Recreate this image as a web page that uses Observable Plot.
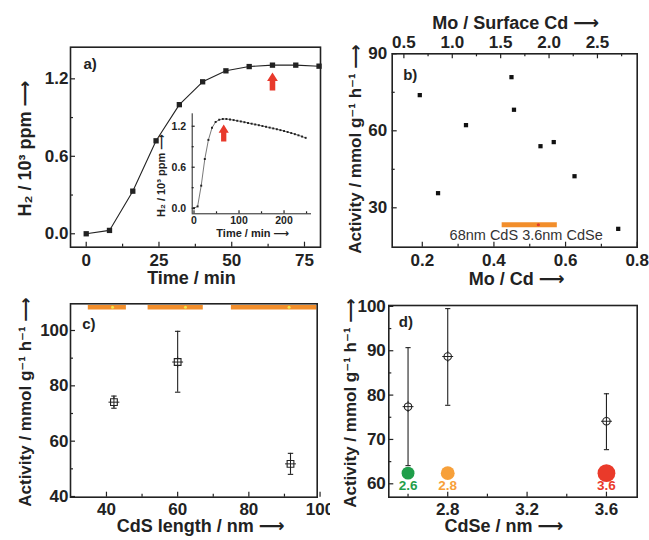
<!DOCTYPE html>
<html><head><meta charset="utf-8">
<script src="https://cdn.jsdelivr.net/npm/d3@7"></script>
<script src="https://cdn.jsdelivr.net/npm/@observablehq/plot@0.6"></script>
<style>
body{margin:0;background:#fff;}
#wrap{position:relative;width:649px;height:540px;overflow:hidden;background:#fff;}
#wrap > svg{position:absolute;background:transparent !important;}
</style></head><body><div id="wrap"></div>
<script>
// ---------- data ----------
// a) main
const timeA = [0, 8, 16, 24, 32, 40, 48, 56, 64, 72, 80];
const h2A = [0.00, 0.026, 0.33, 0.72, 1.00, 1.177, 1.262, 1.295, 1.306, 1.306, 1.298];
const arrowA = [{t: 64, v: 1.18}];
// a) inset
const timeInset = [0, 8, 16, 24, 32, 40, 48, 56, 64, 72, 80, 88, 96, 104, 112, 120, 128, 136, 144, 152, 160,
  168, 176, 184, 192, 200, 208, 216, 224, 232, 240, 248];
const h2Inset = [0.00, 0.026, 0.33, 0.72, 1.00, 1.177, 1.262, 1.295, 1.306, 1.306, 1.298, 1.290, 1.280, 1.270,
  1.259, 1.248, 1.237, 1.226, 1.215, 1.203, 1.192, 1.180, 1.168, 1.156, 1.143, 1.130, 1.115, 1.100, 1.084,
  1.067, 1.049, 1.030];
const arrowInset = [{t: 66, v: 1.10}];
// b)
const moCd = [0.193, 0.244, 0.322, 0.449, 0.456, 0.530, 0.567, 0.625, 0.747];
const activityB = [73.9, 35.7, 62.2, 80.9, 68.2, 54.0, 55.6, 42.3, 21.8];
const sampleBarB = [{x1: 0.423, x2: 0.577, y: 23.4, mid: 0.524}];
const sampleLabelB = [{x: 0.49, y: 19.2, text: "68nm CdS 3.6nm CdSe"}];
const topMoSurfaceCd = [0.5, 1.0, 1.5, 2.0, 2.5];
const topMoSurfaceCdMinor = [0.75, 1.25, 1.75, 2.25, 2.75];
// mapping Mo/Surface Cd (top) -> Mo/Cd (bottom)
const topOffset = 0.1486, topSlope = 0.2702;
// c)
const cdsLength = [42.1, 60.0, 91.7];
const activityC = [74.1, 88.6, 51.8];
const lowC = [71.9, 77.7, 48.0];
const highC = [76.3, 99.7, 55.6];
const lengthRanges = [{x1: 34.9, x2: 45.6, mid: 41.7}, {x1: 51.7, x2: 67.2, mid: 62.2}, {x1: 75.1, x2: 99.1, mid: 91.3}];
const rangeLevelC = 108.4;
// d)
const cdseSize = [2.6, 2.8, 3.6];
const activityD = [77.4, 88.7, 74.1];
const lowD = [64.1, 77.7, 67.7];
const highD = [90.7, 99.5, 80.3];
const dotLevelD = 62.4, dotLabelLevelD = 59.5;
const sizeLabels = ["2.6", "2.8", "3.6"];
const sizeColors = ["#1f9e4a", "#f7a03a", "#ea3a2a"];

// ---------- style ----------
const FONT = '"Liberation Sans", Arial, "DejaVu Sans", sans-serif';
const INK = "#222";
const RED = "#e8392b";
const ORANGE = "#f28e2b";
const TICKFS = 17;
const baseStyle = {fontFamily: FONT, fontSize: "16px", fontWeight: "bold", color: INK, background: "transparent", overflow: "hidden"};
const f1 = d3.format(".1f");

const upArrow = {draw(ctx, size) {
  const r = Math.sqrt(size / Math.PI);
  ctx.moveTo(0, -r); ctx.lineTo(0.6 * r, -0.05 * r); ctx.lineTo(0.31 * r, -0.05 * r); ctx.lineTo(0.31 * r, r);
  ctx.lineTo(-0.31 * r, r); ctx.lineTo(-0.31 * r, -0.05 * r); ctx.lineTo(-0.6 * r, -0.05 * r); ctx.closePath();
}};
const capSym = {draw(ctx, size) { const r = Math.sqrt(size / Math.PI); ctx.moveTo(-r, 0); ctx.lineTo(r, 0); }};

function ticksBottom(vals, len, H) { return Plot.tickX(vals, {x: d => d, insetTop: H - len, stroke: INK, strokeWidth: 1.2}); }
function ticksTop(vals, len, H) { return Plot.tickX(vals, {x: d => d, insetBottom: H - len, stroke: INK, strokeWidth: 1.2}); }
function ticksLeft(vals, len, W) { return Plot.tickY(vals, {y: d => d, insetRight: W - len, stroke: INK, strokeWidth: 1.2}); }

const wrap = document.getElementById("wrap");
function place(svg, left, top) { svg.style.left = left + "px"; svg.style.top = top + "px"; wrap.appendChild(svg); }

const yTitleAct = "Activity / mmol g\u207B\u00B9 h\u207B\u00B9 \u27F6";
const yTitle = (txt, dx, dy, size) => Plot.text([txt], {text: d => d, frameAnchor: "left", dx, dy, rotate: -90,
  textAnchor: "middle", lineAnchor: "middle", fontSize: size, fill: INK});
const xTitle = (txt, dx, dy, size) => Plot.text([txt], {text: d => d, frameAnchor: "bottom", dx, dy,
  textAnchor: "middle", lineAnchor: "middle", fontSize: size, fill: INK});
const panelTag = (txt, dx, dy) => Plot.text([txt], {text: d => d, frameAnchor: "top-left", dx, dy,
  textAnchor: "start", lineAnchor: "middle", fontSize: 15, fill: INK});

// ---------- a) main ----------
{
  const W = 325, H = 295, mL = 70, mR = 5, mT = 46.7, mB = 48.3;
  const fw = W - mL - mR, fh = H - mT - mB;
  const data = timeA.map((t, i) => ({t, v: h2A[i]}));
  const p = Plot.plot({
    width: W, height: H, marginLeft: mL, marginRight: mR, marginTop: mT, marginBottom: mB,
    x: {domain: [-5.4, 80.5], axis: null}, y: {domain: [-0.104, 1.445], axis: null},
    style: baseStyle,
    marks: [
      Plot.line(data, {x: "t", y: "v", stroke: INK, strokeWidth: 1.1}),
      Plot.dot(data, {x: "t", y: "v", symbol: "square", r: 3, fill: INK}),
      Plot.dot(arrowA, {x: "t", y: "v", symbol: upArrow, r: 9, fill: RED}),
      ticksBottom([0, 25, 50, 75], 5, fh), ticksBottom([12.5, 37.5, 62.5], 3, fh),
      ticksLeft([0, 0.6, 1.2], 5, fw), ticksLeft([0.3, 0.9], 3, fw),
      Plot.axisX({ticks: [0, 25, 50, 75], label: null, tickSize: 0, tickPadding: 6.5, fontSize: TICKFS, fill: INK}),
      Plot.axisY({ticks: [0, 0.6, 1.2], label: null, tickSize: 0, tickPadding: 2, tickFormat: f1, fontSize: TICKFS, fill: INK}),
      Plot.frame({stroke: INK, strokeWidth: 1.6}),
      xTitle("Time / min", -4, 31.5, 18),
      yTitle("H\u2082 / 10\u00B3 ppm \u27F6", -45, 1.5, 18),
      panelTag("a)", 13, 16.6)
    ]
  });
  place(p, 0, 0);
}

// ---------- a) inset ----------
{
  const W = 170, H = 145, mL = 41.7, mR = 9, mT = 13.3, mB = 31.7;
  const fw = W - mL - mR, fh = H - mT - mB;
  const data = timeInset.map((t, i) => ({t, v: h2Inset[i]}));
  const xd = [-4, 261], yd = [-0.082, 1.382];
  const p = Plot.plot({
    width: W, height: H, marginLeft: mL, marginRight: mR, marginTop: mT, marginBottom: mB,
    x: {domain: xd, axis: null}, y: {domain: yd, axis: null},
    style: {...baseStyle, fontSize: "10.5px"},
    marks: [
      Plot.ruleX([xd[0]], {stroke: INK, strokeWidth: 1}),
      Plot.ruleY([yd[0]], {stroke: INK, strokeWidth: 1}),
      Plot.line(data, {x: "t", y: "v", stroke: "#555", strokeWidth: 0.8}),
      Plot.dot(data, {x: "t", y: "v", symbol: "square", r: 1.1, fill: INK}),
      Plot.dot(arrowInset, {x: "t", y: "v", symbol: upArrow, r: 8.5, fill: RED}),
      ticksBottom([0, 100, 200], 3, fh), ticksBottom([50, 150, 250], 2, fh),
      ticksLeft([0, 0.6, 1.2], 3, fw), ticksLeft([0.3, 0.9], 2, fw),
      Plot.axisX({ticks: [0, 100, 200], label: null, tickSize: 0, tickPadding: 3, fontSize: 10.5, fill: INK}),
      Plot.axisY({ticks: [0, 0.6, 1.2], label: null, tickSize: 0, tickPadding: 6, tickFormat: f1, fontSize: 10.5, fill: INK}),
      xTitle("Time / min \u27F6", 1, 19.7, 11),
      yTitle("H\u2082 / 10\u00B3 ppm \u27F6", -31, 11.7, 11)
    ]
  });
  place(p, 150, 100);
}

// ---------- b) ----------
{
  const W = 319, H = 295, mL = 61.7, mR = 12.3, mT = 53.3, mB = 48.3;
  const fw = W - mL - mR, fh = H - mT - mB;
  const data = moCd.map((x, i) => ({x, y: activityB[i]}));
  const toBottom = t => topOffset + (t - 0.5) * topSlope;
  const toTop = b => 0.5 + (b - topOffset) / topSlope;
  const p = Plot.plot({
    width: W, height: H, marginLeft: mL, marginRight: mR, marginTop: mT, marginBottom: mB,
    x: {domain: [0.116, 0.8], axis: null}, y: {domain: [14.65, 90], axis: null},
    style: baseStyle,
    marks: [
      Plot.ruleY(sampleBarB, {x1: "x1", x2: "x2", y: "y", stroke: ORANGE, strokeWidth: 5}),
      Plot.dot(sampleBarB, {x: "mid", y: "y", r: 1.6, fill: "#e03a2a"}),
      Plot.text(sampleLabelB, {x: "x", y: "y", text: "text", fontSize: 14.5, fontWeight: "normal", fill: "#333"}),
      Plot.dot(data, {x: "x", y: "y", symbol: "square", r: 2.4, fill: "#111"}),
      ticksBottom([0.2, 0.4, 0.6, 0.8], 5, fh), ticksBottom([0.3, 0.5, 0.7], 3, fh),
      ticksTop(topMoSurfaceCd.map(toBottom), 5, fh), ticksTop(topMoSurfaceCdMinor.map(toBottom), 3, fh),
      ticksLeft([30, 60, 90], 5, fw), ticksLeft([45, 75], 3, fw),
      Plot.axisX({ticks: [0.2, 0.4, 0.6, 0.8], label: null, tickSize: 0, tickPadding: 6.5, tickFormat: f1, fontSize: TICKFS, fill: INK}),
      Plot.axisX({anchor: "top", ticks: topMoSurfaceCd.map(toBottom), label: null, tickSize: 0, tickPadding: 6, tickFormat: d => f1(toTop(d)), fontSize: TICKFS, fill: INK}),
      Plot.axisY({ticks: [30, 60, 90], label: null, tickSize: 0, tickPadding: 5, fontSize: TICKFS, fill: INK}),
      Plot.frame({stroke: INK, strokeWidth: 1.6}),
      xTitle("Mo / Cd \u27F6", 2, 32.5, 18),
      Plot.text(["Mo / Surface Cd \u27F6"], {text: d => d, frameAnchor: "top", dy: -30.6, dx: 1, textAnchor: "middle", lineAnchor: "middle", fontSize: 18, fill: INK}),
      yTitle(yTitleAct, -36.7, -1.5, 17),
      panelTag("b)", 11, 21.7)
    ]
  });
  place(p, 330, 0);
}

// ---------- c) ----------
{
  const W = 330, H = 250, mL = 70, mR = 13.3, mT = 13.3, mB = 43.3;
  const fw = W - mL - mR, fh = H - mT - mB;
  const data = cdsLength.map((x, i) => ({x, y: activityC[i], lo: lowC[i], hi: highC[i]}));
  const p = Plot.plot({
    width: W, height: H, marginLeft: mL, marginRight: mR, marginTop: mT, marginBottom: mB,
    x: {domain: [29.9, 99.2], axis: null}, y: {domain: [39.75, 109.65], axis: null},
    style: baseStyle,
    marks: [
      Plot.ruleY(lengthRanges, {x1: "x1", x2: "x2", y: () => rangeLevelC, stroke: ORANGE, strokeWidth: 4.7}),
      Plot.dot(lengthRanges, {x: "mid", y: () => rangeLevelC, r: 1.5, fill: "#f2e64a"}),
      Plot.ruleX(data, {x: "x", y1: "lo", y2: "hi", stroke: INK, strokeWidth: 1.1}),
      Plot.dot(data, {x: "x", y: "lo", symbol: capSym, r: 2.7, stroke: INK, strokeWidth: 1.1, fill: "none"}),
      Plot.dot(data, {x: "x", y: "hi", symbol: capSym, r: 2.7, stroke: INK, strokeWidth: 1.1, fill: "none"}),
      Plot.dot(data, {x: "x", y: "y", symbol: "square", r: 3.8, stroke: INK, strokeWidth: 1.1, fill: "white"}),
      Plot.dot(data, {x: "x", y: "y", symbol: "plus", r: 3.6, stroke: INK, strokeWidth: 1, fill: "none"}),
      ticksBottom([40, 60, 80, 100], 5, fh), ticksBottom([50, 70, 90], 3, fh),
      ticksLeft([40, 60, 80, 100], 5, fw), ticksLeft([50, 70, 90], 3, fw),
      Plot.axisX({ticks: [40, 60, 80, 100], label: null, tickSize: 0, tickPadding: 6, fontSize: TICKFS, fill: INK}),
      Plot.axisY({ticks: [40, 60, 80, 100], label: null, tickSize: 0, tickPadding: 2, fontSize: TICKFS, fill: INK}),
      Plot.frame({stroke: INK, strokeWidth: 1.6}),
      xTitle("CdS length / nm \u27F6", 6.7, 29.5, 18),
      yTitle(yTitleAct, -45, 1.5, 17),
      panelTag("c)", 11.7, 20.5)
    ]
  });
  place(p, 0, 290);
}

// ---------- d) ----------
{
  const W = 319, H = 250, mL = 58.3, mR = 12.3, mT = 15, mB = 43.3;
  const fw = W - mL - mR, fh = H - mT - mB;
  const data = cdseSize.map((x, i) => ({x, y: activityD[i], lo: lowD[i], hi: highD[i], label: sizeLabels[i], color: sizeColors[i]}));
  const p = Plot.plot({
    width: W, height: H, marginLeft: mL, marginRight: mR, marginTop: mT, marginBottom: mB,
    x: {domain: [2.503, 3.755], axis: null}, y: {domain: [56.98, 100.2], axis: null},
    r: {type: "linear", domain: [0, 3.6], range: [0, 8.9]},
    color: {type: "identity"},
    style: baseStyle,
    marks: [
      Plot.ruleX(data, {x: "x", y1: "lo", y2: "hi", stroke: INK, strokeWidth: 1.1}),
      Plot.dot(data, {x: "x", y: "lo", symbol: capSym, r: 2.6, stroke: INK, strokeWidth: 1.1, fill: "none"}),
      Plot.dot(data, {x: "x", y: "hi", symbol: capSym, r: 2.6, stroke: INK, strokeWidth: 1.1, fill: "none"}),
      Plot.dot(data, {x: "x", y: "y", symbol: "circle", r: 3.7, stroke: INK, strokeWidth: 1.1, fill: "white"}),
      Plot.dot(data, {x: "x", y: "y", symbol: "plus", r: 3.6, stroke: INK, strokeWidth: 1, fill: "none"}),
      Plot.dot(data, {x: "x", y: () => dotLevelD, r: "x", fill: "color"}),
      Plot.text(data, {x: "x", y: () => dotLabelLevelD, text: "label", fill: "color", fontSize: 13.5}),
      ticksBottom([2.8, 3.2, 3.6], 5, fh), ticksBottom([2.6, 3.0, 3.4], 3, fh),
      ticksLeft([60, 70, 80, 90, 100], 5, fw), ticksLeft([65, 75, 85, 95], 3, fw),
      Plot.axisX({ticks: [2.8, 3.2, 3.6], label: null, tickSize: 0, tickPadding: 6, tickFormat: f1, fontSize: TICKFS, fill: INK}),
      Plot.axisY({ticks: [60, 70, 80, 90, 100], label: null, tickSize: 0, tickPadding: 3, fontSize: TICKFS, fill: INK}),
      Plot.frame({stroke: INK, strokeWidth: 1.6}),
      xTitle("CdSe / nm \u27F6", -9, 29.5, 18),
      yTitle(yTitleAct, -38.3, 1.7, 17),
      panelTag("d)", 10, 16.7)
    ]
  });
  place(p, 330, 290);
}
</script></body></html>
